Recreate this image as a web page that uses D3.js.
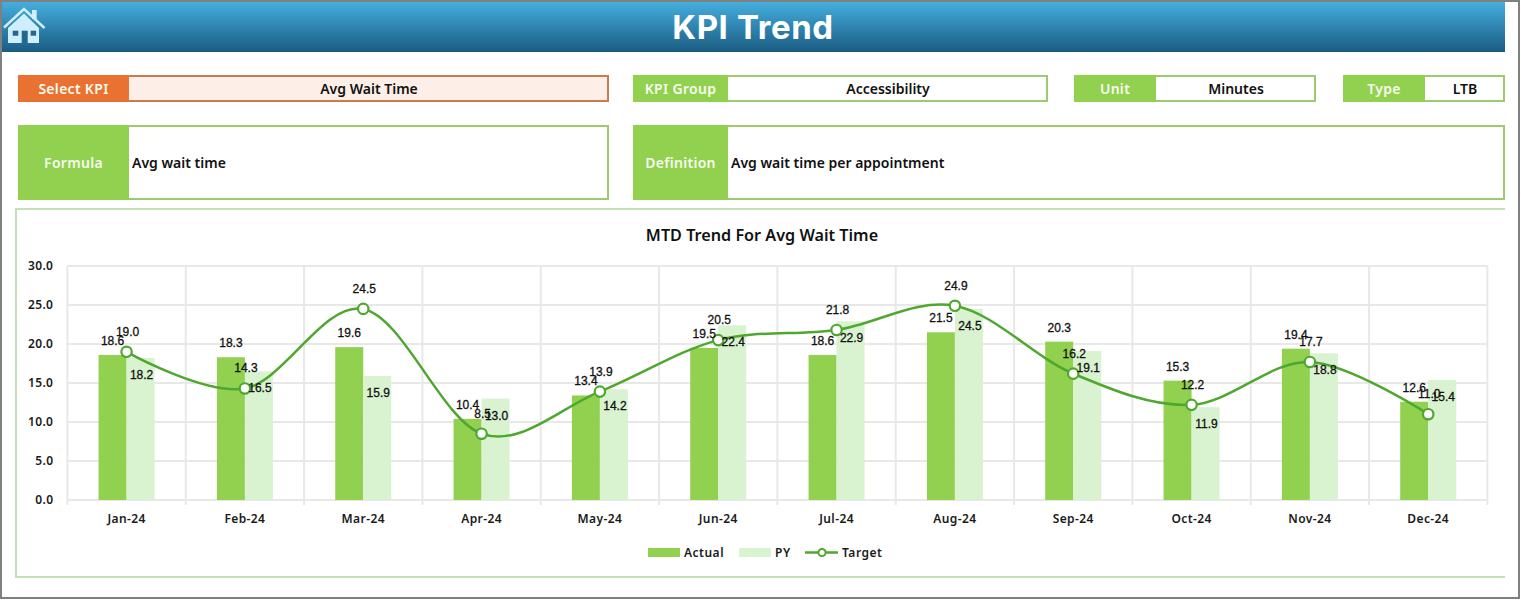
<!DOCTYPE html>
<html lang="en">
<head>
    <meta charset="UTF-8">
    <title>KPI Trend</title>
    <script src="https://d3js.org/d3.v7.min.js"></script>
    <style>
        html, body { margin: 0; padding: 0; background: #fff; overflow: hidden; }
        svg { display: block; }
        text { font-family: "Noto Sans", sans-serif; }
        .ui { font-weight: 600; font-size: 14px; fill: #111; dominant-baseline: central; }
        .ui-head { fill: #f6fbef; letter-spacing: 0.3px; }
        .value-label { font-family: "Liberation Sans", Arial, sans-serif; font-size: 12px; fill: #111; stroke: #111; stroke-width: 0.3px; text-anchor: middle; dominant-baseline: central; }
        .axis text { font-weight: 600; font-size: 12px; fill: #1a1a1a; letter-spacing: 0.4px; }
        .axis path, .axis line { display: none; }
        .grid line { stroke: #e8e8e8; stroke-width: 2; }
    </style>
</head>
<body>
    <svg id="chart"></svg>

    <script>
        // Chart values
        var months = ["Jan-24", "Feb-24", "Mar-24", "Apr-24", "May-24", "Jun-24", "Jul-24", "Aug-24", "Sep-24", "Oct-24", "Nov-24", "Dec-24"];
        var actual = [18.6, 18.3, 19.6, 10.4, 13.4, 19.5, 18.6, 21.5, 20.3, 15.3, 19.4, 12.6];
        var py = [18.2, 16.5, 15.9, 13.0, 14.2, 22.4, 22.9, 24.5, 19.1, 11.9, 18.8, 15.4];
        var target = [19.0, 14.3, 24.5, 8.5, 13.9, 20.5, 21.8, 24.9, 16.2, 12.2, 17.7, 11.0];
        var yTicks = [0, 5, 10, 15, 20, 25, 30];

        var barSeries = ["Actual", "PY"];
        var green = "#92d050", paleGreen = "#d9f2d0", lineGreen = "#4ea72e";

        var width = 1521, height = 600;
        var svg = d3.select("#chart").attr("width", width).attr("height", height);

        // Page frame and header
        var defs = svg.append("defs");
        var grad = defs.append("linearGradient").attr("id", "head").attr("x1", 0).attr("x2", 0).attr("y1", 0).attr("y2", 1);
        grad.append("stop").attr("offset", "0%").attr("stop-color", "#45aede");
        grad.append("stop").attr("offset", "100%").attr("stop-color", "#1a5c82");

        svg.append("rect").attr("x", 1).attr("y", 1).attr("width", 1518).attr("height", 597)
           .attr("fill", "#fff").attr("stroke", "#808080").attr("stroke-width", 2);
        svg.append("rect").attr("x", 2).attr("y", 2).attr("width", 1503).attr("height", 50).attr("fill", "url(#head)");
        svg.append("text").attr("x", 753).attr("y", 27).attr("text-anchor", "middle").attr("dominant-baseline", "central")
           .attr("font-size", 33).attr("font-weight", 700).attr("letter-spacing", 0.6).attr("fill", "#fff").style("font-family", "Inter").text("KPI Trend");

        // Home icon
        var home = svg.append("g");
        home.append("path").attr("d", "M8 28L24 13.5L39 28V43H8Z").attr("fill", "#cfeeff");
        home.append("rect").attr("x", 12.7).attr("y", 30.7).attr("width", 5.6).attr("height", 5).attr("fill", "#24668f");
        home.append("rect").attr("x", 30.7).attr("y", 30.7).attr("width", 5.4).attr("height", 5).attr("fill", "#24668f");
        home.append("rect").attr("x", 21.7).attr("y", 30.7).attr("width", 6).attr("height", 12.3).attr("fill", "#24668f");
        home.append("rect").attr("x", 32).attr("y", 10).attr("width", 4.7).attr("height", 9).attr("fill", "#cfeeff");
        home.append("path").attr("d", "M4 27.5L24 9L44.5 28").attr("fill", "none").attr("stroke", "#cfeeff").attr("stroke-width", 2.4);

        // Info boxes: label cell on the left, value cell on the right
        function infoBox(x0, x1, x2, y0, y1, head, value, opts) {
            opts = opts || {};
            var border = opts.border || "#9ccb6c";
            svg.append("rect").attr("x", x0 + 1).attr("y", y0 + 1).attr("width", x2 - x0 - 2).attr("height", y1 - y0 - 2)
               .attr("fill", opts.fill || "#fff").attr("stroke", border).attr("stroke-width", 2);
            svg.append("rect").attr("x", x0).attr("y", y0).attr("width", x1 - x0).attr("height", y1 - y0).attr("fill", opts.head || green);
            svg.append("text").attr("class", "ui ui-head").attr("x", (x0 + x1) / 2).attr("y", (y0 + y1) / 2)
               .attr("text-anchor", "middle").text(head);
            svg.append("text").attr("class", "ui")
               .attr("x", opts.left ? x1 + 3 : (x1 + x2) / 2).attr("y", (y0 + y1) / 2)
               .attr("text-anchor", opts.left ? "start" : "middle").text(value);
        }

        infoBox(18, 129, 609, 75, 102, "Select KPI", "Avg Wait Time", { head: "#e97132", fill: "#fdefe7", border: "#c97c50" });
        infoBox(633, 728, 1048, 75, 102, "KPI Group", "Accessibility");
        infoBox(1074, 1156, 1316, 75, 102, "Unit", "Minutes");
        infoBox(1343, 1425, 1505, 75, 102, "Type", "LTB");
        infoBox(18, 129, 609, 125, 200, "Formula", "Avg wait time", { left: true });
        infoBox(633, 728, 1505, 125, 200, "Definition", "Avg wait time per appointment", { left: true });

        // Chart frame, open on the right
        svg.append("path").attr("d", "M1505 209H16V577H1505").attr("fill", "none").attr("stroke", "#c5e0b4").attr("stroke-width", 2);

        svg.append("text").attr("x", 762).attr("y", 234.5).attr("text-anchor", "middle").attr("dominant-baseline", "central")
           .attr("font-size", 16.2).attr("font-weight", 600).attr("fill", "#111").text("MTD Trend For Avg Wait Time");

        // Scales
        var xScale = d3.scaleBand().domain(months).range([67.4, 1487.4]).padding(0);
        var xInner = d3.scaleBand().domain(barSeries).range([0, xScale.bandwidth()]).paddingInner(0).paddingOuter(1.113);
        var yScale = d3.scaleLinear().domain([0, 30]).range([500, 266]);

        // Grid lines, the vertical ones sit on band edges and run past the axis
        var grid = svg.append("g").attr("class", "grid");
        grid.selectAll(".h").data(yTicks).enter().append("line")
            .attr("x1", 67.4).attr("x2", 1487.4)
            .attr("y1", function(d) { return yScale(d); })
            .attr("y2", function(d) { return yScale(d); });
        grid.selectAll(".v").data(months.concat(["end"])).enter().append("line")
            .attr("x1", function(d, i) { return 67.4 + i * xScale.step(); })
            .attr("x2", function(d, i) { return 67.4 + i * xScale.step(); })
            .attr("y1", 266).attr("y2", 505);

        // Axes
        svg.append("g").attr("class", "axis").attr("transform", "translate(0,500)")
           .call(d3.axisBottom(xScale).tickSize(0).tickPadding(14));
        svg.append("g").attr("class", "axis").attr("transform", "translate(67.4,0)")
           .call(d3.axisLeft(yScale).tickValues(yTicks).tickSize(0).tickPadding(14).tickFormat(d3.format(".1f")));

        // Bars
        function drawBars(values, name, color) {
            svg.append("g").selectAll("rect").data(values).enter().append("rect")
               .attr("x", function(d, i) { return xScale(months[i]) + xInner(name); })
               .attr("width", xInner.bandwidth())
               .attr("y", function(d) { return yScale(d); })
               .attr("height", function(d) { return 500 - yScale(d); })
               .attr("fill", color);
        }
        drawBars(actual, "Actual", green);
        drawBars(py, "PY", paleGreen);

        // Target line and its markers
        var center = function(d, i) { return xScale(months[i]) + xScale.bandwidth() / 2; };
        var line = d3.line().x(center).y(function(d) { return yScale(d); }).curve(d3.curveCatmullRom.alpha(0));
        svg.append("path").datum(target).attr("d", line).attr("fill", "none").attr("stroke", lineGreen).attr("stroke-width", 2.5);
        svg.append("g").selectAll("circle").data(target).enter().append("circle")
           .attr("cx", center).attr("cy", function(d) { return yScale(d); }).attr("r", 5.2)
           .attr("fill", "#fff").attr("stroke", lineGreen).attr("stroke-width", 2.2);

        // Value labels
        function drawLabels(values, dx, dy) {
            svg.append("g").selectAll("text").data(values).enter().append("text")
               .attr("class", "value-label")
               .attr("x", function(d, i) { return center(d, i) + dx; })
               .attr("y", function(d) { return yScale(d) + dy; })
               .text(function(d) { return d.toFixed(1); });
        }
        drawLabels(actual, -14, -14);
        drawLabels(py, 15, 17);
        drawLabels(target, 1, -20);

        // Legend
        var legend = svg.append("g");
        legend.append("rect").attr("x", 648).attr("y", 548).attr("width", 32).attr("height", 9).attr("fill", green);
        legend.append("rect").attr("x", 739).attr("y", 548).attr("width", 32).attr("height", 9).attr("fill", paleGreen);
        legend.append("line").attr("x1", 805).attr("x2", 838).attr("y1", 552.5).attr("y2", 552.5).attr("stroke", lineGreen).attr("stroke-width", 2.5);
        legend.append("circle").attr("cx", 822).attr("cy", 552.5).attr("r", 3.6).attr("fill", "#fff").attr("stroke", lineGreen).attr("stroke-width", 2);
        legend.selectAll("text").data([["Actual", 684], ["PY", 775], ["Target", 842]]).enter().append("text")
              .attr("x", function(d) { return d[1]; }).attr("y", 552).attr("dominant-baseline", "central")
              .attr("font-size", 12).attr("font-weight", 600).attr("letter-spacing", 0.5).attr("fill", "#1a1a1a")
              .text(function(d) { return d[0]; });
    </script>
</body>
</html>
